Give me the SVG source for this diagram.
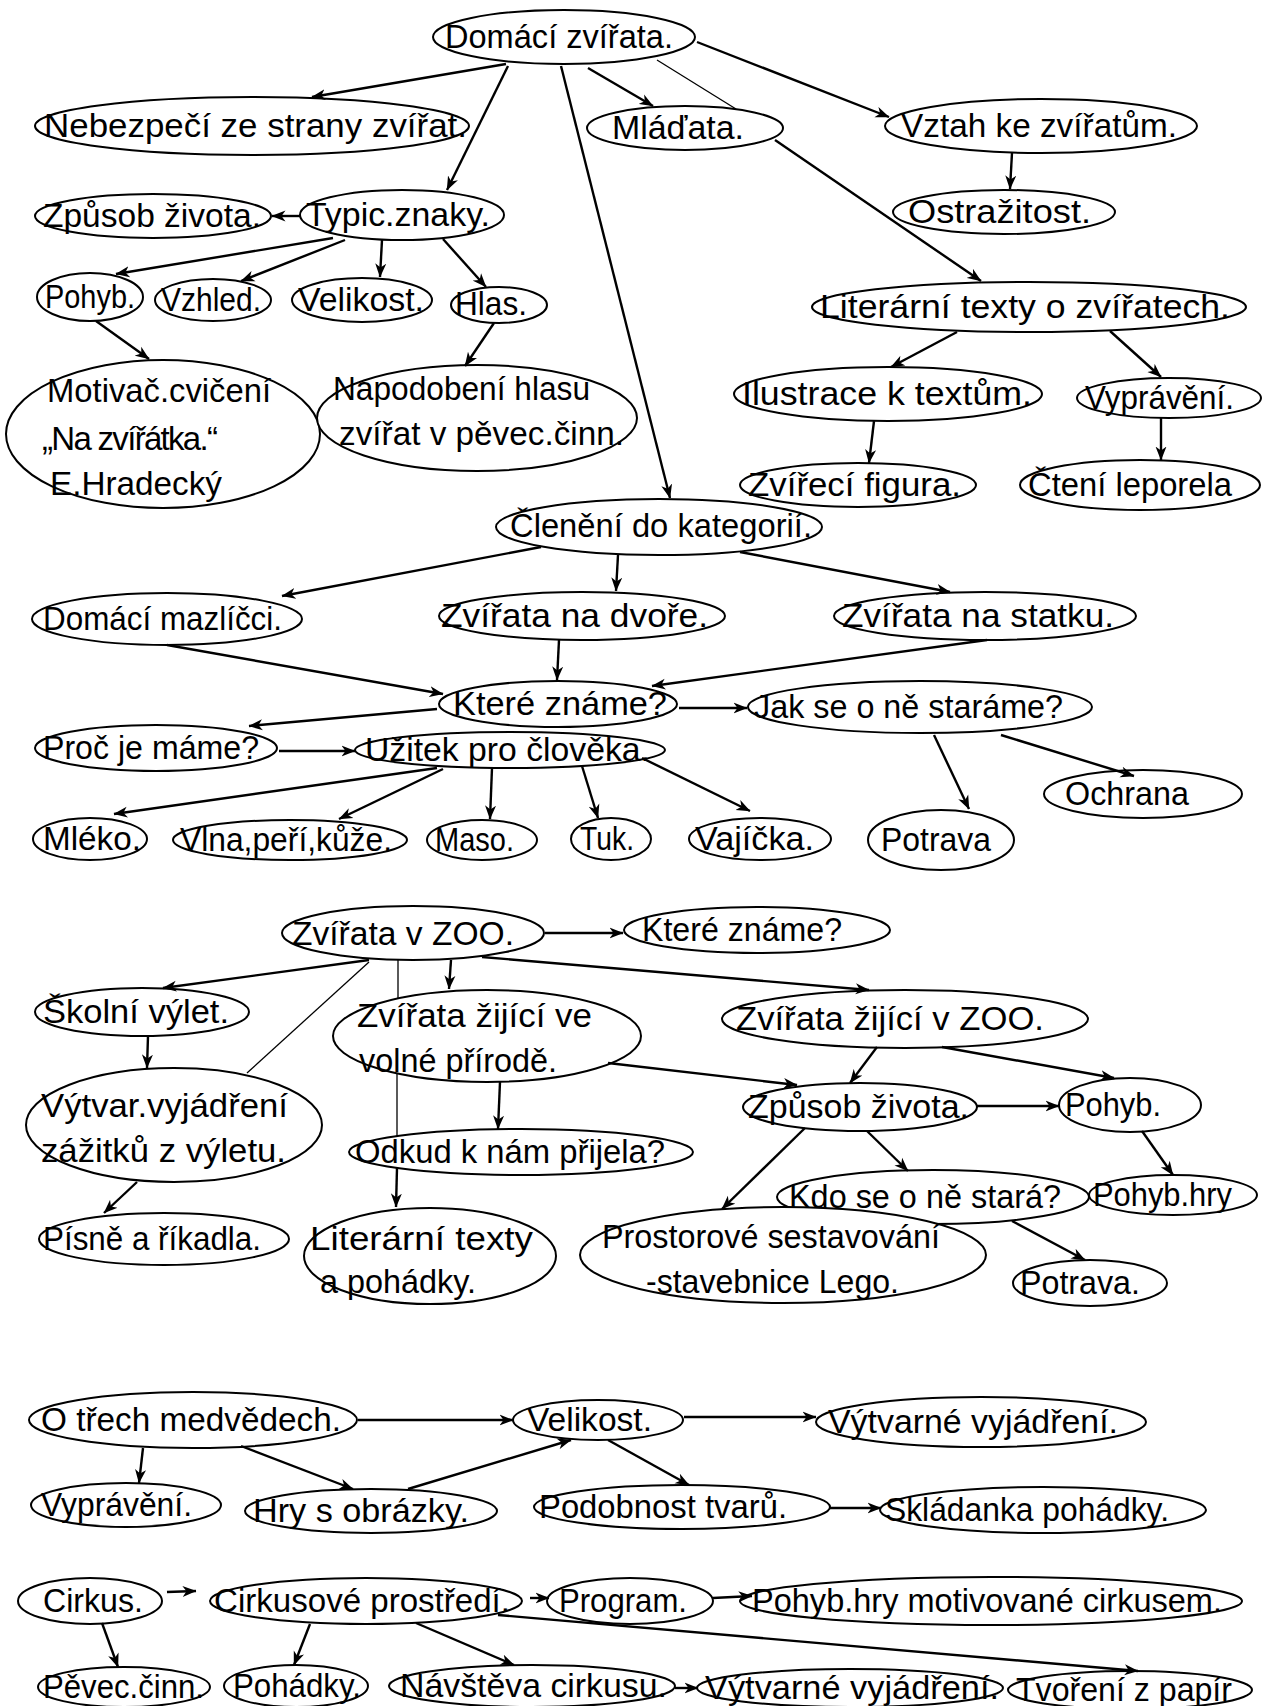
<svg xmlns="http://www.w3.org/2000/svg" width="1271" height="1706" viewBox="0 0 1271 1706">
<style>
.n ellipse{fill:#fff;stroke:#000;stroke-width:2}
.n text{font-family:"Liberation Sans",Arial,sans-serif;font-size:33px;fill:#000}
.c line{stroke:#000;stroke-width:2.4;marker-end:url(#ah)}
.c line.t{stroke-width:1.3;marker-end:none}
</style>
<defs>
<marker id="ah" markerUnits="userSpaceOnUse" viewBox="0 0 14 12" markerWidth="14" markerHeight="12" refX="13.5" refY="6" orient="auto">
<path d="M0,0.5 L14,6 L0,11.5 L4,6 Z" fill="#000"/>
</marker>
</defs>
<rect width="1271" height="1706" fill="#fff"/>

<g id="nodes">
<g id="n1" class="n"><ellipse cx="564" cy="37" rx="131" ry="27"/><text x="445" y="48" textLength="228" lengthAdjust="spacingAndGlyphs">Domácí zvířata.</text></g>
<g id="n2" class="n"><ellipse cx="252" cy="126" rx="217" ry="29"/><text x="44" y="137" textLength="423" lengthAdjust="spacingAndGlyphs">Nebezpečí ze strany zvířat.</text></g>
<g id="n3" class="n"><ellipse cx="685" cy="128" rx="98" ry="22"/><text x="612" y="139" textLength="132" lengthAdjust="spacingAndGlyphs">Mláďata.</text></g>
<g id="n4" class="n"><ellipse cx="1041" cy="126" rx="156" ry="27"/><text x="901" y="137" textLength="276" lengthAdjust="spacingAndGlyphs">Vztah ke zvířatům.</text></g>
<g id="n5" class="n"><ellipse cx="402" cy="215" rx="102" ry="25"/><text x="306" y="226" textLength="184" lengthAdjust="spacingAndGlyphs">Typic.znaky.</text></g>
<g id="n6" class="n"><ellipse cx="153" cy="216" rx="118" ry="22"/><text x="43" y="227" textLength="218" lengthAdjust="spacingAndGlyphs">Způsob života.</text></g>
<g id="n7" class="n"><ellipse cx="1004" cy="212" rx="111" ry="22"/><text x="908" y="223" textLength="183" lengthAdjust="spacingAndGlyphs">Ostražitost.</text></g>
<g id="n8" class="n"><ellipse cx="90" cy="297" rx="53" ry="24"/><text x="45" y="308" textLength="90" lengthAdjust="spacingAndGlyphs">Pohyb.</text></g>
<g id="n9" class="n"><ellipse cx="213" cy="300" rx="58" ry="21"/><text x="161" y="311" textLength="100" lengthAdjust="spacingAndGlyphs">Vzhled.</text></g>
<g id="n10" class="n"><ellipse cx="362" cy="300" rx="70" ry="22"/><text x="298" y="311" textLength="126" lengthAdjust="spacingAndGlyphs">Velikost.</text></g>
<g id="n11" class="n"><ellipse cx="499" cy="305" rx="48" ry="18"/><text x="455" y="315" textLength="72" lengthAdjust="spacingAndGlyphs">Hlas.</text></g>
<g id="n12" class="n"><ellipse cx="1029" cy="307" rx="217" ry="25"/><text x="820" y="318" textLength="410" lengthAdjust="spacingAndGlyphs">Literární texty o zvířatech.</text></g>
<g id="n13" class="n"><ellipse cx="163" cy="434" rx="157" ry="74"/><text x="47" y="402" textLength="224" lengthAdjust="spacingAndGlyphs">Motivač.cvičení</text><text x="42" y="450" textLength="176" lengthAdjust="spacing">„Na zvířátka.“</text><text x="50" y="495" textLength="172" lengthAdjust="spacingAndGlyphs">E.Hradecký</text></g>
<g id="n14" class="n"><ellipse cx="477" cy="418" rx="160" ry="53"/><text x="333" y="400" textLength="257" lengthAdjust="spacingAndGlyphs">Napodobení hlasu</text><text x="339" y="445" textLength="285" lengthAdjust="spacingAndGlyphs">zvířat v pěvec.činn.</text></g>
<g id="n15" class="n"><ellipse cx="888" cy="394" rx="154" ry="27"/><text x="742" y="405" textLength="290" lengthAdjust="spacingAndGlyphs">Ilustrace k textům.</text></g>
<g id="n16" class="n"><ellipse cx="1169" cy="398" rx="92" ry="20"/><text x="1085" y="409" textLength="149" lengthAdjust="spacingAndGlyphs">Vyprávění.</text></g>
<g id="n17" class="n"><ellipse cx="858" cy="485" rx="118" ry="22"/><text x="748" y="496" textLength="213" lengthAdjust="spacingAndGlyphs">Zvířecí figura.</text></g>
<g id="n18" class="n"><ellipse cx="1140" cy="485" rx="120" ry="25"/><text x="1028" y="496" textLength="204" lengthAdjust="spacingAndGlyphs">Čtení leporela</text></g>
<g id="n19" class="n"><ellipse cx="659" cy="527" rx="163" ry="28"/><text x="510" y="537" textLength="302" lengthAdjust="spacingAndGlyphs">Členění do kategorií.</text></g>
<g id="n20" class="n"><ellipse cx="167" cy="619" rx="135" ry="26"/><text x="43" y="630" textLength="239" lengthAdjust="spacingAndGlyphs">Domácí mazlíčci.</text></g>
<g id="n21" class="n"><ellipse cx="582" cy="616" rx="143" ry="24"/><text x="441" y="627" textLength="267" lengthAdjust="spacingAndGlyphs">Zvířata na dvoře.</text></g>
<g id="n22" class="n"><ellipse cx="985" cy="616" rx="151" ry="24"/><text x="842" y="627" textLength="272" lengthAdjust="spacingAndGlyphs">Zvířata na statku.</text></g>
<g id="n23" class="n"><ellipse cx="558" cy="704" rx="119" ry="23"/><text x="453" y="715" textLength="214" lengthAdjust="spacingAndGlyphs">Které známe?</text></g>
<g id="n24" class="n"><ellipse cx="920" cy="707" rx="172" ry="26"/><text x="754" y="718" textLength="309" lengthAdjust="spacingAndGlyphs">Jak se o ně staráme?</text></g>
<g id="n25" class="n"><ellipse cx="156" cy="748" rx="121" ry="23"/><text x="43" y="759" textLength="216" lengthAdjust="spacingAndGlyphs">Proč  je máme?</text></g>
<g id="n26" class="n"><ellipse cx="510" cy="750" rx="155" ry="18"/><text x="365" y="761" textLength="285" lengthAdjust="spacingAndGlyphs">Užitek pro člověka.</text></g>
<g id="n27" class="n"><ellipse cx="1143" cy="794" rx="99" ry="24"/><text x="1065" y="805" textLength="124" lengthAdjust="spacingAndGlyphs">Ochrana</text></g>
<g id="n28" class="n"><ellipse cx="90" cy="839" rx="57" ry="21"/><text x="43" y="850" textLength="98" lengthAdjust="spacingAndGlyphs">Mléko.</text></g>
<g id="n29" class="n"><ellipse cx="290" cy="840" rx="117" ry="20"/><text x="180" y="851" textLength="212" lengthAdjust="spacingAndGlyphs">Vlna,peří,kůže.</text></g>
<g id="n30" class="n"><ellipse cx="482" cy="840" rx="55" ry="20"/><text x="435" y="851" textLength="79" lengthAdjust="spacingAndGlyphs">Maso.</text></g>
<g id="n31" class="n"><ellipse cx="611" cy="839" rx="40" ry="21"/><text x="580" y="850" textLength="54" lengthAdjust="spacingAndGlyphs">Tuk.</text></g>
<g id="n32" class="n"><ellipse cx="760" cy="839" rx="71" ry="21"/><text x="695" y="850" textLength="119" lengthAdjust="spacingAndGlyphs">Vajíčka.</text></g>
<g id="n33" class="n"><ellipse cx="941" cy="840" rx="73" ry="30"/><text x="881" y="851" textLength="110" lengthAdjust="spacingAndGlyphs">Potrava</text></g>

<g id="n34" class="n"><ellipse cx="413" cy="933" rx="131" ry="27"/><text x="292" y="945" textLength="222" lengthAdjust="spacingAndGlyphs">Zvířata v ZOO.</text></g>
<g id="n35" class="n"><ellipse cx="757" cy="930" rx="133" ry="23"/><text x="642" y="941" textLength="200" lengthAdjust="spacingAndGlyphs">Které známe?</text></g>
<g id="n36" class="n"><ellipse cx="142" cy="1012" rx="107" ry="24"/><text x="43" y="1023" textLength="186" lengthAdjust="spacingAndGlyphs">Školní výlet.</text></g>
<g id="n37" class="n"><ellipse cx="487" cy="1036" rx="154" ry="46"/><text x="357" y="1027" textLength="235" lengthAdjust="spacingAndGlyphs">Zvířata žijící ve</text><text x="359" y="1072" textLength="198" lengthAdjust="spacingAndGlyphs">volné přírodě.</text></g>
<g id="n38" class="n"><ellipse cx="905" cy="1019" rx="183" ry="29"/><text x="736" y="1030" textLength="308" lengthAdjust="spacingAndGlyphs">Zvířata žijící v ZOO.</text></g>
<g id="n39" class="n"><ellipse cx="174" cy="1125" rx="148" ry="57"/><text x="41" y="1117" textLength="247" lengthAdjust="spacingAndGlyphs">Výtvar.vyjádření</text><text x="41" y="1162" textLength="245" lengthAdjust="spacingAndGlyphs">zážitků z výletu.</text></g>
<g id="n40" class="n"><ellipse cx="860" cy="1107" rx="117" ry="24"/><text x="748" y="1118" textLength="221" lengthAdjust="spacingAndGlyphs">Způsob života.</text></g>
<g id="n41" class="n"><ellipse cx="1130" cy="1105" rx="71" ry="27"/><text x="1065" y="1116" textLength="96" lengthAdjust="spacingAndGlyphs">Pohyb.</text></g>
<g id="n42" class="n"><ellipse cx="521" cy="1152" rx="172" ry="23"/><text x="355" y="1163" textLength="310" lengthAdjust="spacingAndGlyphs">Odkud k nám přijela?</text></g>
<g id="n43" class="n"><ellipse cx="933" cy="1197" rx="156" ry="27"/><text x="789" y="1208" textLength="272" lengthAdjust="spacingAndGlyphs">Kdo se o ně stará?</text></g>
<g id="n44" class="n"><ellipse cx="1173" cy="1195" rx="84" ry="20"/><text x="1093" y="1206" textLength="139" lengthAdjust="spacingAndGlyphs">Pohyb.hry</text></g>
<g id="n45" class="n"><ellipse cx="164" cy="1239" rx="125" ry="26"/><text x="43" y="1250" textLength="218" lengthAdjust="spacingAndGlyphs">Písně a říkadla.</text></g>
<g id="n46" class="n"><ellipse cx="430" cy="1256" rx="126" ry="48"/><text x="310" y="1250" textLength="223" lengthAdjust="spacingAndGlyphs">Literární texty</text><text x="320" y="1293" textLength="156" lengthAdjust="spacingAndGlyphs">a pohádky.</text></g>
<g id="n47" class="n"><ellipse cx="783" cy="1255" rx="203" ry="48"/><text x="602" y="1248" textLength="338" lengthAdjust="spacingAndGlyphs">Prostorové sestavování</text><text x="646" y="1293" textLength="253" lengthAdjust="spacingAndGlyphs">-stavebnice Lego.</text></g>
<g id="n48" class="n"><ellipse cx="1090" cy="1283" rx="77" ry="23"/><text x="1020" y="1294" textLength="120" lengthAdjust="spacingAndGlyphs">Potrava.</text></g>

<g id="n49" class="n"><ellipse cx="193" cy="1420" rx="164" ry="28"/><text x="41" y="1431" textLength="300" lengthAdjust="spacingAndGlyphs">O třech medvědech.</text></g>
<g id="n50" class="n"><ellipse cx="598" cy="1420" rx="85" ry="20"/><text x="527" y="1431" textLength="125" lengthAdjust="spacingAndGlyphs">Velikost.</text></g>
<g id="n51" class="n"><ellipse cx="981" cy="1422" rx="165" ry="25"/><text x="828" y="1433" textLength="290" lengthAdjust="spacingAndGlyphs">Výtvarné vyjádření.</text></g>
<g id="n52" class="n"><ellipse cx="126" cy="1505" rx="95" ry="22"/><text x="41" y="1516" textLength="151" lengthAdjust="spacingAndGlyphs">Vyprávění.</text></g>
<g id="n53" class="n"><ellipse cx="371" cy="1511" rx="126" ry="22"/><text x="253" y="1522" textLength="216" lengthAdjust="spacingAndGlyphs">Hry s obrázky.</text></g>
<g id="n54" class="n"><ellipse cx="682" cy="1507" rx="148" ry="22"/><text x="539" y="1518" textLength="248" lengthAdjust="spacingAndGlyphs">Podobnost tvarů.</text></g>
<g id="n55" class="n"><ellipse cx="1043" cy="1510" rx="163" ry="23"/><text x="885" y="1521" textLength="284" lengthAdjust="spacingAndGlyphs">Skládanka pohádky.</text></g>

<g id="n56" class="n"><ellipse cx="90" cy="1601" rx="72" ry="23"/><text x="43" y="1612" textLength="100" lengthAdjust="spacingAndGlyphs">Cirkus.</text></g>
<g id="n57" class="n"><ellipse cx="366" cy="1601" rx="156" ry="23"/><text x="214" y="1612" textLength="296" lengthAdjust="spacingAndGlyphs">Cirkusové prostředí.</text></g>
<g id="n58" class="n"><ellipse cx="630" cy="1601" rx="83" ry="23"/><text x="559" y="1612" textLength="128" lengthAdjust="spacingAndGlyphs">Program.</text></g>
<g id="n59" class="n"><ellipse cx="991" cy="1601" rx="251" ry="24"/><text x="752" y="1612" textLength="470" lengthAdjust="spacingAndGlyphs">Pohyb.hry motivované cirkusem.</text></g>
<g id="n60" class="n"><ellipse cx="124" cy="1687" rx="86" ry="20"/><text x="43" y="1698" textLength="161" lengthAdjust="spacingAndGlyphs">Pěvec.činn.</text></g>
<g id="n61" class="n"><ellipse cx="296" cy="1686" rx="72" ry="21"/><text x="233" y="1697" textLength="128" lengthAdjust="spacingAndGlyphs">Pohádky.</text></g>
<g id="n62" class="n"><ellipse cx="532" cy="1686" rx="143" ry="21"/><text x="400" y="1697" textLength="267" lengthAdjust="spacingAndGlyphs">Návštěva cirkusu.</text></g>
<g id="n63" class="n"><ellipse cx="850" cy="1688" rx="153" ry="19"/><text x="705" y="1699" textLength="294" lengthAdjust="spacingAndGlyphs">Výtvarné vyjádření.</text></g>
<g id="n64" class="n"><ellipse cx="1130" cy="1690" rx="122" ry="19"/><text x="1016" y="1701" textLength="216" lengthAdjust="spacingAndGlyphs">Tvoření z papír</text></g>
</g>

<g id="connectors" class="c">
<line x1="506" y1="64" x2="312" y2="97"/>
<line x1="508" y1="66" x2="447" y2="190"/>
<line x1="561" y1="66" x2="670" y2="498"/>
<line x1="588" y1="68" x2="653" y2="106"/>
<line class="t" x1="657" y1="60" x2="736" y2="109"/>
<line x1="697" y1="42" x2="889" y2="117"/>
<line x1="1012" y1="153" x2="1010" y2="189"/>
<line x1="300" y1="216" x2="272" y2="216"/>
<line x1="333" y1="238" x2="116" y2="274"/>
<line x1="345" y1="240" x2="241" y2="281"/>
<line x1="382" y1="240" x2="380" y2="277"/>
<line x1="443" y1="239" x2="486" y2="287"/>
<line x1="96" y1="321" x2="149" y2="359"/>
<line x1="494" y1="323" x2="465" y2="366"/>
<line x1="775" y1="140" x2="981" y2="281"/>
<line x1="957" y1="332" x2="891" y2="367"/>
<line x1="1110" y1="331" x2="1161" y2="377"/>
<line x1="874" y1="421" x2="869" y2="463"/>
<line x1="1161" y1="418" x2="1161" y2="460"/>
<line x1="541" y1="547" x2="282" y2="596"/>
<line x1="618" y1="555" x2="616" y2="591"/>
<line x1="740" y1="552" x2="950" y2="592"/>
<line x1="167" y1="645" x2="443" y2="694"/>
<line x1="559" y1="640" x2="557" y2="680"/>
<line x1="987" y1="640" x2="652" y2="686"/>
<line x1="679" y1="708" x2="747" y2="708"/>
<line x1="934" y1="735" x2="969" y2="809"/>
<line x1="1001" y1="735" x2="1134" y2="776"/>
<line x1="437" y1="709" x2="249" y2="726"/>
<line x1="279" y1="751" x2="355" y2="751"/>
<line x1="437" y1="768" x2="114" y2="814"/>
<line x1="443" y1="769" x2="339" y2="819"/>
<line x1="492" y1="768" x2="490" y2="819"/>
<line x1="582" y1="766" x2="598" y2="818"/>
<line x1="642" y1="758" x2="750" y2="811"/>

<line x1="545" y1="933" x2="623" y2="933"/>
<line x1="369" y1="960" x2="163" y2="988"/>
<line class="t" x1="369" y1="962" x2="247" y2="1073"/>
<line class="t" x1="398" y1="960" x2="398" y2="998"/>
<line class="t" x1="397" y1="1074" x2="397" y2="1136"/>
<line x1="397" y1="1168" x2="396" y2="1207"/>
<line x1="451" y1="960" x2="449" y2="989"/>
<line x1="482" y1="957" x2="869" y2="990"/>
<line x1="148" y1="1036" x2="147" y2="1068"/>
<line x1="137" y1="1182" x2="104" y2="1213"/>
<line x1="500" y1="1082" x2="498" y2="1129"/>
<line x1="608" y1="1063" x2="797" y2="1085"/>
<line x1="877" y1="1047" x2="850" y2="1083"/>
<line x1="942" y1="1047" x2="1114" y2="1078"/>
<line x1="977" y1="1106" x2="1059" y2="1106"/>
<line x1="1142" y1="1131" x2="1173" y2="1175"/>
<line x1="867" y1="1131" x2="908" y2="1171"/>
<line x1="805" y1="1128" x2="722" y2="1209"/>
<line x1="1012" y1="1221" x2="1085" y2="1260"/>

<line x1="358" y1="1420" x2="513" y2="1420"/>
<line x1="684" y1="1417" x2="816" y2="1417"/>
<line x1="143" y1="1448" x2="139" y2="1483"/>
<line x1="241" y1="1446" x2="353" y2="1489"/>
<line x1="408" y1="1489" x2="571" y2="1440"/>
<line x1="608" y1="1440" x2="689" y2="1485"/>
<line x1="830" y1="1508" x2="881" y2="1508"/>

<line x1="167" y1="1592" x2="196" y2="1591"/>
<line x1="530" y1="1598" x2="549" y2="1598"/>
<line x1="713" y1="1598" x2="752" y2="1596"/>
<line x1="102" y1="1623" x2="118" y2="1667"/>
<line x1="310" y1="1624" x2="294" y2="1665"/>
<line x1="416" y1="1623" x2="514" y2="1665"/>
<line x1="498" y1="1615" x2="1138" y2="1671"/>
<line x1="675" y1="1688" x2="698" y2="1688"/>
</g>
</svg>
